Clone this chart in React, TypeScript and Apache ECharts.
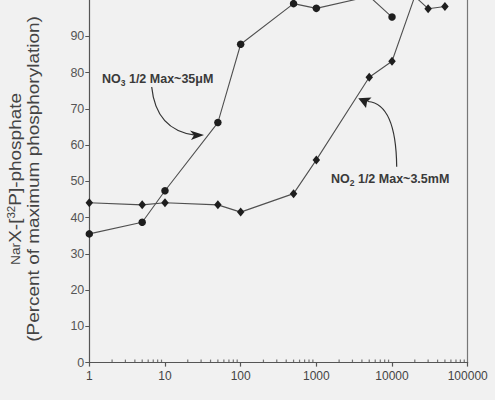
import React, { useEffect, useRef } from "react";
import * as echarts from "echarts";

const no3X = [1, 5, 10, 50, 100, 500, 1000, 5000, 10000];
const no3Y = [35.5, 38.7, 47.4, 66.2, 87.8, 99, 97.7, 101, 95.3];
const no2X = [1, 5, 10, 50, 100, 500, 1000, 5000, 10000, 20000, 30000, 50000];
const no2Y = [44.1, 43.5, 44.1, 43.5, 41.5, 46.6, 55.9, 78.7, 83.1, 101, 97.6, 98.2];
const minorDecades = [1, 10, 100, 1000, 10000];
const minorSteps = [2, 3, 4, 5, 6, 7, 8, 9];
const yMin = 0;
const yMax = 100;
const yInterval = 10;

const FONT = "'Liberation Sans', Arial, Helvetica, sans-serif";
const INK = "#3a3a3a";

export default function App() {
  const ref = useRef<HTMLDivElement>(null);
  useEffect(() => {
    if (!ref.current) return;
    const chart = echarts.init(ref.current, undefined, { renderer: "svg" });
    const minorTicks: number[][] = [];
    minorDecades.forEach((d) => minorSteps.forEach((s) => minorTicks.push([d * s, 0])));
    const subRich = {
      b: { fontSize: 12.5, fontWeight: "bold", fontFamily: FONT, fill: INK, lineHeight: 17 },
      s: { fontSize: 8.5, fontWeight: "bold", fontFamily: FONT, fill: INK, lineHeight: 17, verticalAlign: "bottom" },
    };
    const option = {
      animation: false,
      backgroundColor: "#f1f1f1",
      grid: { left: 89.3, right: 27.3, top: -3.4, bottom: 37.4, containLabel: false },
      xAxis: {
        type: "log",
        logBase: 10,
        min: 1,
        max: 100000,
        axisLine: { show: true, lineStyle: { color: "#555", width: 1.2 } },
        axisTick: { show: true, length: 4, lineStyle: { color: "#555", width: 1.2 } },
        splitLine: { show: false },
        axisLabel: {
          color: "#444",
          fontSize: 12,
          fontFamily: FONT,
          margin: 7,
          formatter: (v: number) => String(Math.round(v)),
        },
      },
      yAxis: [
        {
          type: "value",
          min: yMin,
          max: yMax,
          interval: yInterval,
          axisLine: { show: true, lineStyle: { color: "#555", width: 1.2 } },
          axisTick: { show: true, length: 4, lineStyle: { color: "#555", width: 1 } },
          splitLine: { show: false },
          axisLabel: {
            color: "#555",
            fontSize: 12.5,
            fontFamily: FONT,
            margin: 5,
            showMaxLabel: false,
            formatter: (v: number) => (v >= 100 ? "" : String(v)),
          },
        },
        {
          type: "value",
          position: "right",
          min: yMin,
          max: yMax,
          interval: yInterval,
          axisLine: { show: true, lineStyle: { color: "#777", width: 1.2 } },
          axisTick: { show: false },
          axisLabel: { show: false },
          splitLine: { show: false },
        },
      ],
      series: [
        {
          name: "NO3",
          type: "line",
          data: no3X.map((x, i) => [x, no3Y[i]]),
          symbol: "circle",
          symbolSize: 7.5,
          itemStyle: { color: "#1e1e1e" },
          lineStyle: { color: "#505050", width: 1.1 },
          clip: true,
        },
        {
          name: "NO2",
          type: "line",
          data: no2X.map((x, i) => [x, no2Y[i]]),
          symbol: "diamond",
          symbolSize: [7.5, 9],
          itemStyle: { color: "#1e1e1e" },
          lineStyle: { color: "#505050", width: 1.1 },
          clip: true,
        },
        {
          name: "minor",
          type: "scatter",
          data: minorTicks,
          symbol: "rect",
          symbolSize: [1.2, 3],
          symbolOffset: [0, -1.5],
          itemStyle: { color: "#555" },
          silent: true,
          z: 1,
        },
      ],
      graphic: [
        {
          type: "text",
          x: 24.5,
          y: 179,
          rotation: Math.PI / 2,
          scaleX: 1.15,
          style: {
            text: "{sm|Nar}{n|X-[}{sup|32}{n|P]-phosphate}\n{n|(Percent of maximum phosphorylation)}",
            align: "center",
            verticalAlign: "middle",
            rich: {
              n: { fontSize: 16.5, fontFamily: FONT, fill: "#444", lineHeight: 18 },
              sm: { fontSize: 12, fontFamily: FONT, fill: "#444", lineHeight: 18 },
              sup: { fontSize: 10, fontFamily: FONT, fill: "#444", lineHeight: 18, verticalAlign: "top" },
            },
          },
        },
        {
          type: "text",
          x: 102,
          y: 79,
          style: {
            text: "{b|NO}{s|3}{b| 1/2 Max~35μM}",
            align: "left",
            verticalAlign: "middle",
            rich: subRich,
          },
        },
        {
          type: "text",
          x: 331,
          y: 179,
          style: {
            text: "{b|NO}{s|2}{b| 1/2 Max~3.5mM}",
            align: "left",
            verticalAlign: "middle",
            rich: subRich,
          },
        },
        {
          type: "bezierCurve",
          shape: { x1: 151.7, y1: 87, cpx1: 156, cpy1: 130, x2: 195, y2: 135.2 },
          style: { stroke: "#333", lineWidth: 1.2, fill: null },
        },
        {
          type: "polygon",
          shape: { points: [[204, 135], [190, 130.5], [194, 135.3], [191, 140]] },
          style: { fill: "#222" },
        },
        {
          type: "bezierCurve",
          shape: { x1: 396.7, y1: 166.7, cpx1: 396, cpy1: 104, x2: 368, y2: 101.5 },
          style: { stroke: "#333", lineWidth: 1.2, fill: null },
        },
        {
          type: "polygon",
          shape: { points: [[358.3, 98.3], [371.5, 97.5], [367, 102], [366, 108]] },
          style: { fill: "#222" },
        },
      ],
    };
    chart.setOption(option as any);
    return () => chart.dispose();
  }, []);
  return (
    <div
      ref={ref}
      style={{ position: "fixed", left: 0, top: 0, width: 495, height: 400, background: "#f1f1f1" }}
    />
  );
}
